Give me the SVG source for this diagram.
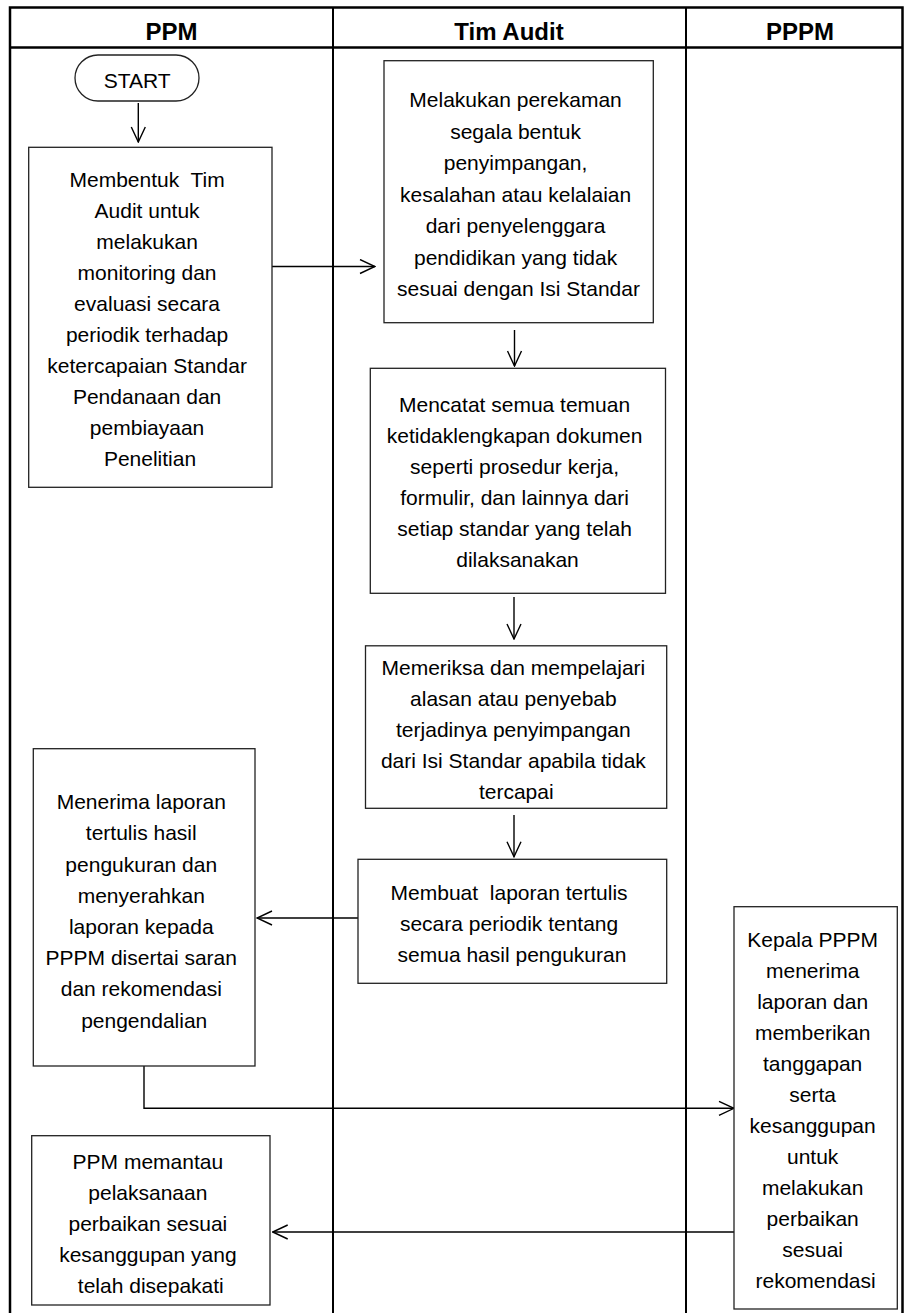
<svg xmlns="http://www.w3.org/2000/svg" width="904" height="1313" viewBox="0 0 904 1313">
<defs>
<style>
.frame{stroke:#000;stroke-width:2.5;fill:none}
.div{stroke:#000;stroke-width:2;fill:none}
.box{fill:#fff;stroke:#222;stroke-width:1.3}
.t{font-family:"Liberation Sans",Arial,sans-serif;font-size:21px;fill:#000;text-anchor:middle}
.h{font-family:"Liberation Sans",Arial,sans-serif;font-size:24px;font-weight:bold;fill:#000;text-anchor:middle}
.c{fill:none;stroke:#000;stroke-width:1.4;marker-end:url(#arr)}
.pre{white-space:pre}
</style>
<marker id="arr" viewBox="-16 -8 17 16" refX="0" refY="0" markerWidth="17" markerHeight="16" markerUnits="userSpaceOnUse" orient="auto">
<path d="M-15,-7 L0,0 L-15,7" fill="none" stroke="#000" stroke-width="1.4"/>
</marker>
</defs>
<rect width="904" height="1313" fill="#fff"/>
<g id="lanes">
<path class="frame" d="M10,1313 V7.5 H902.5 V1313"/>
<path class="frame" d="M10,47.5 H902.5"/>
<path class="div" d="M333,7.5 V1313 M686,7.5 V1313"/>
<text class="h" x="171.5" y="39.5">PPM</text>
<text class="h" x="509" y="39.5">Tim Audit</text>
<text class="h" x="800" y="39.5">PPPM</text>
</g>
<g id="connectors">
<path class="c" d="M138.3,103 V142"/>
<path class="c" d="M272,266.5 H375"/>
<path class="c" d="M514.5,330 V366"/>
<path class="c" d="M514,597 V639"/>
<path class="c" d="M514,815 V856.7"/>
<path class="c" d="M358,918 H257"/>
<path class="c" d="M144,1066 V1108.3 H734"/>
<path class="c" d="M734,1232 H272.7"/>
</g>
<g id="start">
<rect class="box" x="75" y="55" width="124" height="46" rx="23" ry="23"/>
<text class="t" x="137.2" y="87.5">START</text>
</g>
<g id="boxA">
<rect class="box" x="28.7" y="147.3" width="243.3" height="340"/>
<text class="t">
<tspan class="pre" x="150" y="187">Membentuk  Tim</tspan>
<tspan x="150" y="218">Audit untuk</tspan>
<tspan x="150" y="249">melakukan</tspan>
<tspan x="150" y="280">monitoring dan</tspan>
<tspan x="150" y="311">evaluasi secara</tspan>
<tspan x="150" y="342">periodik terhadap</tspan>
<tspan x="150" y="373">ketercapaian Standar</tspan>
<tspan x="150" y="404">Pendanaan dan</tspan>
<tspan x="150" y="435">pembiayaan</tspan>
<tspan x="150" y="466">Penelitian</tspan>
</text>
</g>
<g id="boxB">
<rect class="box" x="384" y="60.7" width="269.3" height="262"/>
<text class="t">
<tspan x="518.5" y="107">Melakukan perekaman</tspan>
<tspan x="518.5" y="138.5">segala bentuk</tspan>
<tspan x="518.5" y="170">penyimpangan,</tspan>
<tspan x="518.5" y="201.5">kesalahan atau kelalaian</tspan>
<tspan x="518.5" y="233">dari penyelenggara</tspan>
<tspan x="518.5" y="264.5">pendidikan yang tidak</tspan>
<tspan x="518.5" y="296">sesuai dengan Isi Standar</tspan>
</text>
</g>
<g id="boxC">
<rect class="box" x="370.3" y="368.3" width="295.2" height="225"/>
<text class="t">
<tspan x="517.5" y="412">Mencatat semua temuan</tspan>
<tspan x="517.5" y="443">ketidaklengkapan dokumen</tspan>
<tspan x="517.5" y="474">seperti prosedur kerja,</tspan>
<tspan x="517.5" y="505">formulir, dan lainnya dari</tspan>
<tspan x="517.5" y="536">setiap standar yang telah</tspan>
<tspan x="517.5" y="567">dilaksanakan</tspan>
</text>
</g>
<g id="boxD">
<rect class="box" x="365.5" y="645.8" width="301.2" height="162.5"/>
<text class="t">
<tspan x="516.3" y="675">Memeriksa dan mempelajari</tspan>
<tspan x="516.3" y="706">alasan atau penyebab</tspan>
<tspan x="516.3" y="737">terjadinya penyimpangan</tspan>
<tspan x="516.3" y="768">dari Isi Standar apabila tidak</tspan>
<tspan x="516.3" y="799">tercapai</tspan>
</text>
</g>
<g id="boxE">
<rect class="box" x="358" y="859.3" width="308.7" height="124"/>
<text class="t">
<tspan class="pre" x="512" y="900">Membuat  laporan tertulis</tspan>
<tspan x="512" y="931">secara periodik tentang</tspan>
<tspan x="512" y="962">semua hasil pengukuran</tspan>
</text>
</g>
<g id="boxF">
<rect class="box" x="33.3" y="748.7" width="221.7" height="317.3"/>
<text class="t">
<tspan x="144.2" y="809">Menerima laporan</tspan>
<tspan x="144.2" y="840">tertulis hasil</tspan>
<tspan x="144.2" y="871.5">pengukuran dan</tspan>
<tspan x="144.2" y="902.5">menyerahkan</tspan>
<tspan x="144.2" y="934">laporan kepada</tspan>
<tspan x="144.2" y="965">PPPM disertai saran</tspan>
<tspan x="144.2" y="996">dan rekomendasi</tspan>
<tspan x="144.2" y="1027.5">pengendalian</tspan>
</text>
</g>
<g id="boxG">
<rect class="box" x="734" y="906.7" width="163.3" height="402.3"/>
<text class="t">
<tspan x="815.6" y="946.7">Kepala PPPM</tspan>
<tspan x="815.6" y="977.7">menerima</tspan>
<tspan x="815.6" y="1008.7">laporan dan</tspan>
<tspan x="815.6" y="1039.7">memberikan</tspan>
<tspan x="815.6" y="1070.7">tanggapan</tspan>
<tspan x="815.6" y="1101.7">serta</tspan>
<tspan x="815.6" y="1132.7">kesanggupan</tspan>
<tspan x="815.6" y="1163.7">untuk</tspan>
<tspan x="815.6" y="1194.7">melakukan</tspan>
<tspan x="815.6" y="1225.7">perbaikan</tspan>
<tspan x="815.6" y="1256.7">sesuai</tspan>
<tspan x="815.6" y="1287.7">rekomendasi</tspan>
</text>
</g>
<g id="boxH">
<rect class="box" x="31.7" y="1135.7" width="238.3" height="169.3"/>
<text class="t">
<tspan x="150.8" y="1168.5">PPM memantau</tspan>
<tspan x="150.8" y="1199.5">pelaksanaan</tspan>
<tspan x="150.8" y="1230.5">perbaikan sesuai</tspan>
<tspan x="150.8" y="1261.5">kesanggupan yang</tspan>
<tspan x="150.8" y="1292.5">telah disepakati</tspan>
</text>
</g>
</svg>
